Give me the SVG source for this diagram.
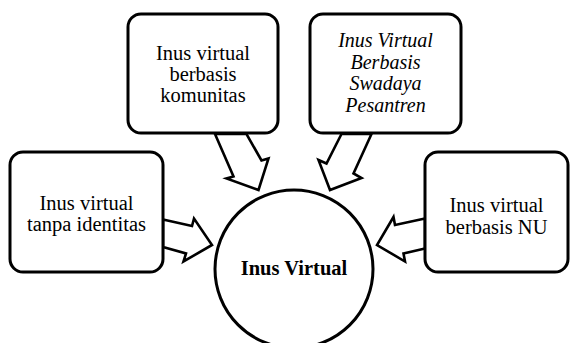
<svg xmlns="http://www.w3.org/2000/svg" width="574" height="343" viewBox="0 0 574 343">
<style>
.box{fill:#fff;stroke:#000;stroke-width:3}
.arr{fill:#fff;stroke:#000;stroke-width:2.6;stroke-linejoin:miter}
.t{font-family:"Liberation Serif","Times New Roman",serif;font-size:20.5px;fill:#000;text-anchor:middle}
.i{font-style:italic;font-size:20px}
.b{font-weight:bold}
</style>
<rect width="574" height="343" fill="#fff"/>
<g id="connectors">
<polygon class="arr" points="163,219.5 192,226 194,218.5 212,245 183.5,261.5 186,253.5 163,247"/>
<polygon class="arr" points="215,134 233.5,176.5 226.5,178.5 258.5,190 268.5,158.5 261.5,160.5 246.5,134"/>
<polygon class="arr" points="371.5,134 353.5,173.5 361.5,178 330,190 318.5,160 326.5,163.5 341.5,134"/>
<polygon class="arr" points="425,218.5 395,225 393.5,217 377,245 405,261.5 403.5,253.5 425,248.5"/>
</g>
<g id="node-left">
<rect class="box" x="10" y="152" width="153" height="120" rx="13"/>
<text class="t" x="86.5" y="209.5">Inus virtual</text>
<text class="t" x="86.5" y="231">tanpa identitas</text>
</g>
<g id="node-topleft">
<rect class="box" x="128" y="14" width="150" height="119" rx="13"/>
<text class="t" x="203" y="59.5">Inus virtual</text>
<text class="t" x="203" y="80.8">berbasis</text>
<text class="t" x="203" y="101.8">komunitas</text>
</g>
<g id="node-topright">
<rect class="box" x="310" y="14" width="151" height="119" rx="13"/>
<text class="t i" x="385.5" y="47">Inus Virtual</text>
<text class="t i" x="385.5" y="68.5">Berbasis</text>
<text class="t i" x="385.5" y="90">Swadaya</text>
<text class="t i" x="385.5" y="111.5">Pesantren</text>
</g>
<g id="node-right">
<rect class="box" x="425" y="152" width="143" height="120" rx="13"/>
<text class="t" x="496.5" y="212">Inus virtual</text>
<text class="t" x="496.5" y="233.5">berbasis NU</text>
</g>
<g id="node-center">
<circle class="box" cx="294" cy="269" r="79"/>
<text class="t b" x="294" y="275">Inus Virtual</text>
</g>
</svg>
